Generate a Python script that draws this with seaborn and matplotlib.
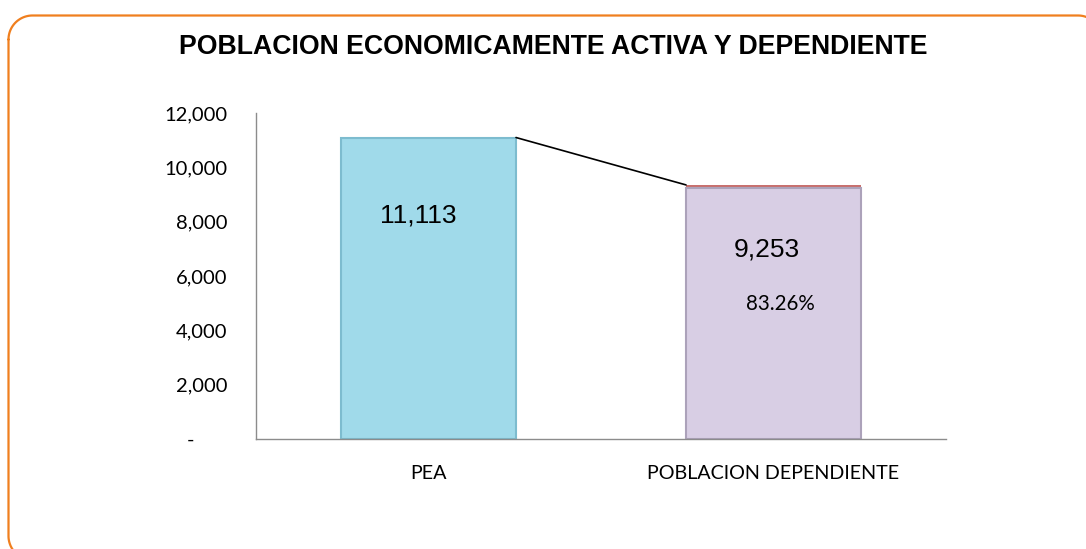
import matplotlib
matplotlib.use("Agg")
import matplotlib.pyplot as plt
import seaborn as sns
import pandas as pd
import numpy as np
from matplotlib.transforms import ScaledTranslation

categories = ["PEA", "POBLACION DEPENDIENTE"]
base_values = [11113, 9253]
top_values = [0, 110]
value_labels = ["11,113", "9,253"]
pct_label = "83.26%"
yticks = [0, 2000, 4000, 6000, 8000, 10000, 12000]
ytick_labels = ["-", "2,000", "4,000", "6,000", "8,000", "10,000", "12,000"]
title = "POBLACION ECONOMICAMENTE ACTIVA Y DEPENDIENTE"

sns.set_style("white")
plt.rcParams['font.family'] = ['Lato', 'DejaVu Sans']
plt.rcParams['text.color'] = 'black'
plt.rcParams['xtick.color'] = 'black'
plt.rcParams['ytick.color'] = 'black'

fig = plt.figure(figsize=(10.86, 5.49), dpi=100)

# rounded orange frame, drawn in pixel coordinates (y measured from top)
fax = fig.add_axes([0, 0, 1, 1], zorder=-1)
fax.set_xlim(0, 1086)
fax.set_ylim(549, 0)
fax.axis("off")
x0, y0, x1, y1, r = 8.5, 15.5, 1102.0, 560.0, 24.0
def arc(cx, cy, a0, a1):
    t = np.radians(np.linspace(a0, a1, 30))
    return cx + r*np.cos(t), cy - r*np.sin(t)
pts_x, pts_y = [], []
for cx, cy, a0, a1 in [(x0 + r, y0 + r, 180, 90), (x1 - r, y0 + r, 90, 0),
                       (x1 - r, y1 - r, 0, -90), (x0 + r, y1 - r, -90, -180)]:
    ax_, ay_ = arc(cx, cy, a0, a1)
    pts_x.extend(ax_); pts_y.extend(ay_)
pts_x.append(pts_x[0]); pts_y.append(pts_y[0])
fax.plot(pts_x, pts_y, color="#F07F1E", lw=1.6, solid_joinstyle="round")

ax = fig.add_axes([256/1086, 1-438.5/549, (946-256)/1086, (438.5-113.5)/549])

totals = [b + t for b, t in zip(base_values, top_values)]
df_tot = pd.DataFrame({"cat": categories, "val": totals})
df_base = pd.DataFrame({"cat": categories, "val": base_values})
W = 175/345

sns.barplot(data=df_tot, x="cat", y="val", ax=ax, width=W, saturation=1,
            palette=["#A0DAEA", "#C8706E"], hue="cat", legend=False,
            edgecolor="none", linewidth=0)
sns.barplot(data=df_base, x="cat", y="val", ax=ax, width=W, saturation=1,
            palette=["#A0DAEA", "#D8CEE4"], hue="cat", legend=False,
            edgecolor="none", linewidth=0)
for p, ec in zip(ax.patches[2:], ["#7DBCCF", "#ACA2BA"]):
    p.set_edgecolor(ec)
    p.set_linewidth(1.5)

# series line
ax.plot([0 + W/2, 1 - W/2], [totals[0], totals[1]], color="black", lw=1.2, zorder=5)

ax.set_ylim(0, 12000)
ax.set_xlim(-0.5, 1.5)
ax.set_yticks(yticks)
ax.set_yticklabels(ytick_labels, fontsize=14.5)
ax.set_xticks([-0.5, 0.5, 1.5], minor=False)
ax.set_xticklabels(["", "", ""])
ax.set_xticks([0, 1], minor=True)
ax.set_xticklabels(categories, minor=True, fontsize=14.2)
ax.tick_params(axis="x", which="minor", length=0, pad=19)
ax.tick_params(axis="x", which="major", length=7, width=1, color="#8C8C8C", direction="out")
ax.tick_params(axis="y", length=7, width=1, color="#8C8C8C", direction="out", pad=13.5)
ax.set_xlabel("")
ax.set_ylabel("")
for s in ["top", "right"]:
    ax.spines[s].set_visible(False)
for s in ["left", "bottom"]:
    ax.spines[s].set_color("#8C8C8C")
    ax.spines[s].set_linewidth(1)

# shift zero label (accounting-style dash)
lbl0 = ax.get_yticklabels()[0]
lbl0.set_transform(lbl0.get_transform() + ScaledTranslation(-0.33, 0, fig.dpi_scale_trans))

# data labels
ax.text(0 - 0.030, 8245, value_labels[0], ha="center", va="center", fontsize=19,
        family=["Liberation Sans", "DejaVu Sans"])
ax.text(1 - 0.019, 6990, value_labels[1], ha="center", va="center", fontsize=19,
        family=["Liberation Sans", "DejaVu Sans"])
ax.text(1 + 0.019, 4960, pct_label, ha="center", va="center", fontsize=14.8)

fig.text(553/1086, 1-47/549, title, ha="center", va="center", fontsize=19.2,
         fontweight="bold", family=["Liberation Sans", "DejaVu Sans"])

fig.savefig("out.png", dpi=100)
